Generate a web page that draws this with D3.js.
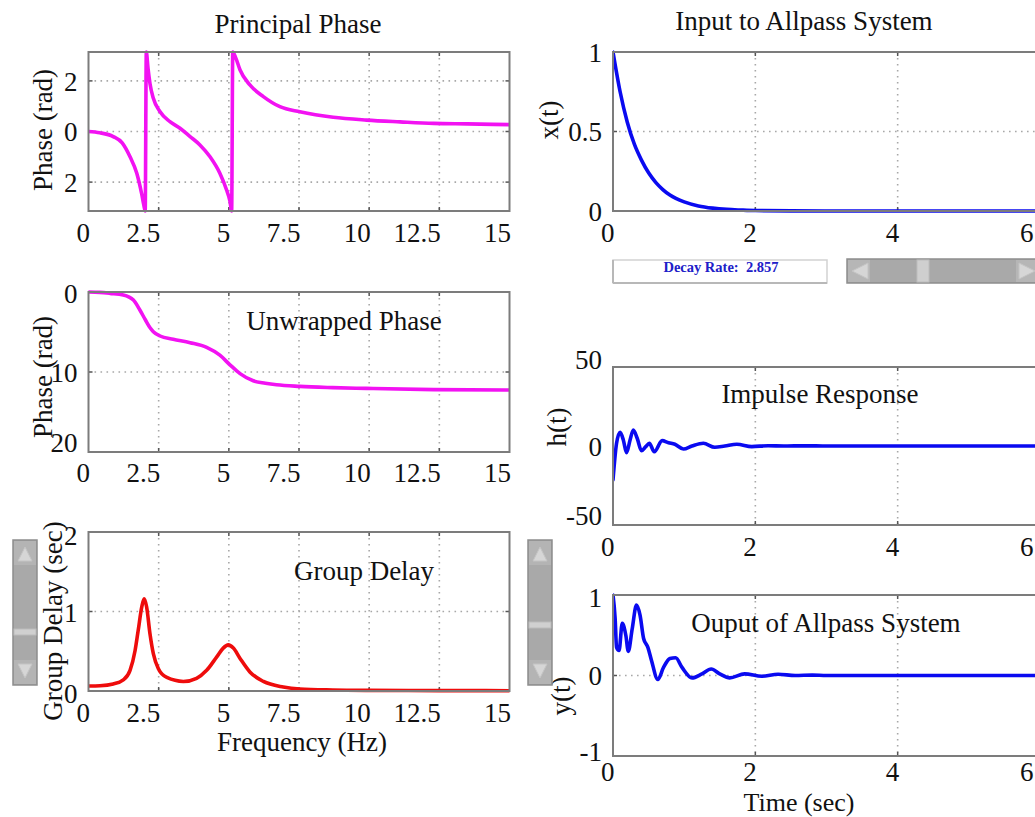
<!DOCTYPE html>
<html><head><meta charset="utf-8">
<script src="https://cdn.jsdelivr.net/npm/d3@7"></script>
<style>body{margin:0;background:#fff;} svg{display:block;}</style>
</head><body>
<svg id="chart" width="1035" height="817"></svg>
<script>
// ---------- DATA ----------
const freqTicks = [0, 2.5, 5, 7.5, 10, 12.5, 15];
const freqTickLabels = ["0", "2.5", "5", "7.5", "10", "12.5", "15"];
const freqGrid = [2.5, 5, 7.5, 10, 12.5];
const timeTicks = [0, 2, 4, 6];
const timeTickLabels = ["0", "2", "4", "6"];
const timeGrid = [2, 4];

const principalTicks = [-2, 0, 2];
const principalTickLabels = ["2", "0", "2"];
const unwrappedTicks = [-20, -10, 0];
const unwrappedTickLabels = ["20", "10", "0"];
const delayTicks = [0, 1, 2];
const delayTickLabels = ["0", "1", "2"];
const inputTicks = [0, 0.5, 1];
const inputTickLabels = ["0", "0.5", "1"];
const impulseTicks = [-50, 0, 50];
const impulseTickLabels = ["-50", "0", "50"];
const outputTicks = [-1, 0, 1];
const outputTickLabels = ["-1", "0", "1"];

const principalFreq  = [0, 0.4, 0.88, 1.2, 1.48, 1.72, 1.89, 1.97, 2.02, 2.06, 2.12, 2.19, 2.31, 2.55, 2.9, 3.26, 3.62, 3.97, 4.33, 4.68, 4.92, 5.04, 5.10, 5.14, 5.25, 5.4, 5.75, 6.23, 6.82, 7.53, 8.72, 9.91, 11.1, 12.3, 13.5, 15];
const principalPhase = [0, -0.05, -0.2, -0.45, -1.0, -1.65, -2.44, -2.9, -3.14, 3.14, 2.5, 1.9, 1.31, 0.78, 0.39, 0.13, -0.2, -0.53, -1.0, -1.65, -2.31, -2.75, -3.14, 3.14, 2.9, 2.43, 1.84, 1.38, 0.98, 0.78, 0.56, 0.45, 0.38, 0.32, 0.3, 0.27];

const unwrapFreq  = [0, 0.4, 0.77, 1.24, 1.6, 1.83, 2.03, 2.2, 2.31, 2.55, 3.02, 3.62, 4.21, 4.68, 5.04, 5.4, 5.87, 6.3, 6.7, 7.53, 8.7, 9.9, 12.3, 15];
const unwrapPhase = [0, -0.05, -0.17, -0.37, -1.0, -2.25, -3.5, -4.5, -4.96, -5.5, -5.9, -6.33, -6.92, -7.9, -9.1, -10.2, -11.1, -11.4, -11.6, -11.8, -11.95, -12.05, -12.2, -12.25];

const delayFreq  = [0, 0.41, 0.88, 1.24, 1.48, 1.66, 1.77, 1.9, 1.98, 2.07, 2.19, 2.31, 2.49, 2.79, 3.38, 3.85, 4.21, 4.57, 4.8, 4.98, 5.16, 5.4, 5.75, 6.23, 6.94, 7.53, 8.7, 10, 12.5, 15];
const delayValue = [0.063, 0.066, 0.088, 0.14, 0.26, 0.51, 0.76, 1.06, 1.16, 1.06, 0.72, 0.47, 0.28, 0.17, 0.12, 0.16, 0.26, 0.43, 0.54, 0.58, 0.54, 0.41, 0.24, 0.12, 0.05, 0.025, 0.013, 0.008, 0.005, 0.004];

const inputTime  = [0, 0.1, 0.2, 0.3, 0.4, 0.5, 0.6, 0.7, 0.8, 1.0, 1.2, 1.4, 1.6, 1.8, 2.0, 2.5, 3, 4, 5, 6];
const inputValue = [1, 0.75, 0.56, 0.42, 0.32, 0.24, 0.18, 0.135, 0.10, 0.057, 0.032, 0.018, 0.01, 0.006, 0.003, 0.001, 0, 0, 0, 0];

const impulseTime  = [0, 0.05, 0.1, 0.145, 0.19, 0.24, 0.285, 0.34, 0.4, 0.46, 0.51, 0.58, 0.69, 0.78, 0.87, 0.99, 1.11, 1.27, 1.43, 1.57, 1.74, 1.95, 2.18, 2.4, 2.7, 3, 4, 5, 6];
const impulseValue = [-21.5, 1.7, 8.7, 3.8, -4.2, 3.8, 10.1, 4.9, -3, -0.4, 1.7, -3.6, 3.4, 2.1, 1.1, -1.9, 0, 1.7, -0.8, 0, 1.1, -0.4, 0.2, 0, 0.1, 0, 0, 0, 0];

const outputTime  = [0, 0.03, 0.05, 0.085, 0.13, 0.18, 0.215, 0.27, 0.33, 0.38, 0.43, 0.49, 0.54, 0.63, 0.71, 0.8, 0.88, 0.97, 1.11, 1.25, 1.38, 1.5, 1.64, 1.85, 2.09, 2.32, 2.56, 2.8, 3.0, 3.5, 4, 5, 6];
const outputValue = [1, 0.71, 0.35, 0.31, 0.65, 0.5, 0.3, 0.58, 0.875, 0.75, 0.46, 0.35, 0.19, -0.05, 0.1, 0.21, 0.22, 0.1, -0.03, 0.02, 0.08, 0.02, -0.03, 0.02, -0.01, 0.015, 0, 0.005, 0, 0, 0, 0, 0];

const decayLabel = "Decay Rate:\u00a0\u00a02.857";

// ---------- DRAWING ----------
const svg = d3.select("#chart");
const FONT = "'Liberation Serif','Times New Roman',Times,serif";
const FS = 27;
const EDGE = 1033;

function panel(o) {
  const x = d3.scaleLinear().domain(o.xDomain).range([o.left, o.right]);
  const y = d3.scaleLinear().domain(o.yDomain).range([o.bottom, o.top]);
  const g = svg.append("g");
  const cid = "clip-" + o.id;
  svg.append("clipPath").attr("id", cid).append("rect")
    .attr("x", o.left).attr("y", o.top - 2)
    .attr("width", o.right - o.left).attr("height", o.bottom - o.top + 4);

  const grid = g.append("g").attr("stroke", "#a8a8a8").attr("stroke-width", 1.6)
    .attr("stroke-dasharray", "1.6,4.4");
  grid.selectAll("line.vx").data(o.xGrid).join("line").attr("class", "vx")
    .attr("x1", d => x(d)).attr("x2", d => x(d)).attr("y1", o.top).attr("y2", o.bottom);
  grid.selectAll("line.hy").data(o.yGrid).join("line").attr("class", "hy")
    .attr("x1", o.left).attr("x2", o.right).attr("y1", d => y(d)).attr("y2", d => y(d));

  const tk = g.append("g").attr("stroke", "#555").attr("stroke-width", 1.5);
  o.xGrid.forEach(d => {
    tk.append("line").attr("x1", x(d)).attr("x2", x(d)).attr("y1", o.bottom).attr("y2", o.bottom - 4);
    tk.append("line").attr("x1", x(d)).attr("x2", x(d)).attr("y1", o.top).attr("y2", o.top + 4);
  });
  o.yGrid.forEach(d => {
    tk.append("line").attr("x1", o.left).attr("x2", o.left + 4).attr("y1", y(d)).attr("y2", y(d));
    tk.append("line").attr("x1", o.right).attr("x2", o.right - 4).attr("y1", y(d)).attr("y2", y(d));
  });

  const line = d3.line().x(d => x(d[0])).y(d => y(d[1])).curve(d3.curveMonotoneX);
  g.append("path").datum(d3.zip(o.xs, o.ys)).attr("d", line)
    .attr("clip-path", `url(#${cid})`)
    .attr("fill", "none").attr("stroke", o.color).attr("stroke-width", 3.6)
    .attr("stroke-linejoin", "round").attr("stroke-linecap", "round");

  g.append("rect").attr("x", o.left).attr("y", o.top)
    .attr("width", o.right - o.left).attr("height", o.bottom - o.top)
    .attr("fill", "none").attr("stroke", "#7c7c7c").attr("stroke-width", 2);

  const xa = d3.axisBottom(x).tickValues(o.xTicks).tickFormat((d, i) => o.xTickLabels[i]).tickSize(0);
  const gx = g.append("g").attr("transform", `translate(0,${o.bottom})`).call(xa);
  gx.select(".domain").remove();
  gx.attr("font-family", FONT).attr("font-size", FS);
  gx.selectAll("text").attr("text-anchor", "end").attr("y", o.xBase - o.bottom)
    .attr("dy", null).attr("x", d => Math.min(1, EDGE - x(d))).attr("fill", "#111");

  const ya = d3.axisLeft(y).tickValues(o.yTicks).tickFormat((d, i) => o.yTickLabels[i])
    .tickSize(0).tickPadding(11);
  const gy = g.append("g").attr("transform", `translate(${o.left},0)`).call(ya);
  gy.select(".domain").remove();
  gy.attr("font-family", FONT).attr("font-size", FS);
  gy.selectAll("text").attr("fill", "#111").attr("dy", "0.34em")
    .attr("y", (d, i) => (o.yShift ? o.yShift[i] : 0));

  g.append("text").attr("transform", `translate(${o.yTitleX},${o.yTitleY}) rotate(-90)`)
    .attr("text-anchor", "middle").attr("font-family", FONT).attr("font-size", FS)
    .attr("fill", "#111").text(o.yTitle);

  if (o.title) {
    g.append("text").attr("x", o.titleX).attr("y", o.titleY).attr("text-anchor", "middle")
      .attr("font-family", FONT).attr("font-size", FS).attr("fill", "#111").text(o.title);
  }
  if (o.xTitle) {
    g.append("text").attr("x", o.xTitleX).attr("y", o.xTitleY).attr("text-anchor", "middle")
      .attr("font-family", FONT).attr("font-size", o.xTitleSize || FS).attr("fill", "#111").text(o.xTitle);
  }
}

const L = {left: 88.5, right: 509.5};
const R = {left: 613, right: 1040};

panel({id: "pp", ...L, top: 52, bottom: 211, xDomain: [0, 15], yDomain: [-Math.PI, Math.PI],
  xs: principalFreq, ys: principalPhase, color: "#f212f2",
  xGrid: freqGrid, yGrid: [-2, 0, 2], xTicks: freqTicks, xTickLabels: freqTickLabels, xBase: 242,
  yTicks: principalTicks, yTickLabels: principalTickLabels,
  yTitle: "Phase (rad)", yTitleX: 52, yTitleY: 130,
  title: "Principal Phase", titleX: 298, titleY: 33});

panel({id: "up", ...L, top: 292, bottom: 452, xDomain: [0, 15], yDomain: [-20, 0],
  xs: unwrapFreq, ys: unwrapPhase, color: "#f212f2",
  xGrid: freqGrid, yGrid: [-10], xTicks: freqTicks, xTickLabels: freqTickLabels, xBase: 482,
  yTicks: unwrappedTicks, yTickLabels: unwrappedTickLabels, yShift: [-10, 0, 1],
  yTitle: "Phase (rad)", yTitleX: 52, yTitleY: 377,
  title: "Unwrapped Phase", titleX: 344, titleY: 330});

panel({id: "gd", ...L, top: 532, bottom: 691, xDomain: [0, 15], yDomain: [0, 2],
  xs: delayFreq, ys: delayValue, color: "#ee0c0c",
  xGrid: freqGrid, yGrid: [1], xTicks: freqTicks, xTickLabels: freqTickLabels, xBase: 722,
  yTicks: delayTicks, yTickLabels: delayTickLabels, yShift: [2, 1, 3],
  yTitle: "Group Delay (sec)", yTitleX: 62, yTitleY: 621,
  title: "Group Delay", titleX: 364, titleY: 580,
  xTitle: "Frequency (Hz)", xTitleX: 302, xTitleY: 751});

panel({id: "in", ...R, top: 52, bottom: 211, xDomain: [0, 6], yDomain: [0, 1],
  xs: inputTime, ys: inputValue, color: "#0a0af0",
  xGrid: timeGrid, yGrid: [0.5], xTicks: timeTicks, xTickLabels: timeTickLabels, xBase: 242,
  yTicks: inputTicks, yTickLabels: inputTickLabels,
  yTitle: "x(t)", yTitleX: 558, yTitleY: 120,
  title: "Input to Allpass System", titleX: 804, titleY: 30});

panel({id: "ir", ...R, top: 367, bottom: 525, xDomain: [0, 6], yDomain: [-50, 50],
  xs: impulseTime, ys: impulseValue, color: "#0a0af0",
  xGrid: timeGrid, yGrid: [], xTicks: timeTicks, xTickLabels: timeTickLabels, xBase: 556,
  yTicks: impulseTicks, yTickLabels: impulseTickLabels, yShift: [-10, 0, -8],
  yTitle: "h(t)", yTitleX: 566, yTitleY: 427,
  title: "Impulse Response", titleX: 820, titleY: 403});

panel({id: "out", ...R, top: 595, bottom: 756, xDomain: [0, 6], yDomain: [-1, 1],
  xs: outputTime, ys: outputValue, color: "#0a0af0",
  xGrid: timeGrid, yGrid: [0], xTicks: timeTicks, xTickLabels: timeTickLabels, xBase: 781,
  yTicks: outputTicks, yTickLabels: outputTickLabels, yShift: [-5, 0, 2],
  yTitle: "y(t)", yTitleX: 570, yTitleY: 696,
  title: "Ouput of Allpass System", titleX: 826, titleY: 632,
  xTitle: "Time (sec)", xTitleX: 799, xTitleY: 811, xTitleSize: 26});

// ---------- UI CONTROLS ----------
function vSlider(x, y, w, h, thumbY) {
  const g = svg.append("g");
  g.append("rect").attr("x", x).attr("y", y).attr("width", w).attr("height", h)
    .attr("fill", "#a9a9a9").attr("stroke", "#8d8d8d").attr("stroke-width", 1.5);
  g.append("rect").attr("x", x + 1).attr("y", y + 1).attr("width", w - 2).attr("height", 24)
    .attr("fill", "#b4b4b4");
  g.append("rect").attr("x", x + 1).attr("y", y + h - 25).attr("width", w - 2).attr("height", 24)
    .attr("fill", "#b4b4b4");
  const cx = x + w / 2;
  g.append("path").attr("d", `M${cx - 7},${y + 21} L${cx},${y + 7} L${cx + 7},${y + 21} Z`)
    .attr("fill", "#d6d6d6").attr("stroke", "#c4c4c4");
  g.append("path").attr("d", `M${cx - 7},${y + h - 21} L${cx},${y + h - 7} L${cx + 7},${y + h - 21} Z`)
    .attr("fill", "#d6d6d6").attr("stroke", "#c4c4c4");
  g.append("rect").attr("x", x + 1).attr("y", thumbY).attr("width", w - 2).attr("height", 6)
    .attr("fill", "#d0d0d0").attr("stroke", "#bcbcbc");
}
vSlider(13, 540, 24, 145, 629);
vSlider(528, 540, 24, 145, 622);

const db = svg.append("g");
db.append("rect").attr("x", 613).attr("y", 260).attr("width", 214).attr("height", 23)
  .attr("fill", "#fff").attr("stroke", "#d2d2d2").attr("stroke-width", 1.5);
db.append("line").attr("x1", 613).attr("x2", 613).attr("y1", 260).attr("y2", 283)
  .attr("stroke", "#b8b8b8").attr("stroke-width", 2);
db.append("line").attr("x1", 613).attr("x2", 827).attr("y1", 283).attr("y2", 283)
  .attr("stroke", "#b8b8b8").attr("stroke-width", 2);
db.append("text").attr("x", 721).attr("y", 272).attr("text-anchor", "middle")
  .attr("font-family", FONT).attr("font-size", 14.5).attr("font-weight", "bold")
  .attr("fill", "#2020c8").text(decayLabel);

const hs = svg.append("g");
hs.append("rect").attr("x", 847).attr("y", 259).attr("width", 200).attr("height", 24)
  .attr("fill", "#a9a9a9").attr("stroke", "#8d8d8d").attr("stroke-width", 1.5);
hs.append("rect").attr("x", 848).attr("y", 260).attr("width", 22).attr("height", 22).attr("fill", "#b6b6b6");
hs.append("path").attr("d", "M868,263 L852,271 L868,279 Z").attr("fill", "#d6d6d6").attr("stroke", "#c4c4c4");
hs.append("rect").attr("x", 1016).attr("y", 260).attr("width", 22).attr("height", 22).attr("fill", "#b6b6b6");
hs.append("path").attr("d", "M1019,263 L1035,271 L1019,279 Z").attr("fill", "#d6d6d6").attr("stroke", "#c4c4c4");
hs.append("rect").attr("x", 917).attr("y", 260).attr("width", 12).attr("height", 22)
  .attr("fill", "#cfcfcf").attr("stroke", "#bdbdbd");
</script>
</body></html>
